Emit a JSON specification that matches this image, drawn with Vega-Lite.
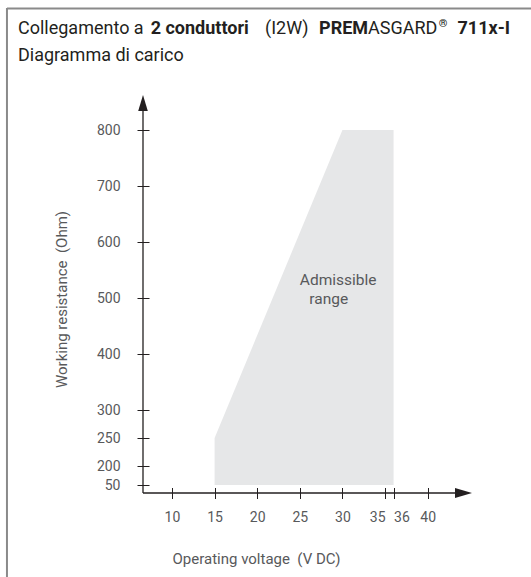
{
  "$schema": "https://vega.github.io/schema/vega-lite/v6.json",
  "autosize": {"type": "none"},
  "padding": {"left": 143, "top": 95, "right": 59, "bottom": 84},
  "width": 329,
  "height": 398,
  "background": "white",
  "config": {
    "view": {"stroke": null},
    "font": "Roboto",
    "axis": {"grid": false, "domain": false, "labelFont": "Roboto", "titleFont": "Roboto", "labelColor": "#58595b", "titleColor": "#58595b", "tickColor": "#231f20", "tickWidth": 1, "labelFontSize": 14, "titleFontSize": 15, "titleFontWeight": "normal", "labelOverlap": false, "labelFlush": false}
  },
  "datasets": {
    "range": [
      {"voltage": 15, "resistance": 250},
      {"voltage": 30, "resistance": 800},
      {"voltage": 36, "resistance": 800}
    ],
    "labels": [
      {"label": "Admissible", "voltage": 29.5, "resistance": 532},
      {"label": "range", "voltage": 28.4, "resistance": 498}
    ]
  },
  "layer": [
    {
      "data": {"name": "range"},
      "mark": {"type": "area", "color": "#e6e7e8", "interpolate": "linear"},
      "encoding": {
        "x": {"field": "voltage", "type": "quantitative", "scale": {"domain": [6.6, 45.2], "nice": false, "zero": false},
          "axis": {"values": [10, 15, 20, 25, 30, 35, 36, 40], "offset": -5.5, "tickSize": 11, "labelPadding": 12,
            "labelAlign": {"condition": [{"test": "datum.value == 35", "value": "right"}, {"test": "datum.value == 36", "value": "left"}], "value": "center"},
            "title": "Operating voltage \u00a0(V DC)", "titleX": 29, "titleY": 71, "titleAlign": "left", "titleBaseline": "middle", "titleAnchor": "start"}},
        "y": {"field": "resistance", "type": "quantitative", "scale": {"domain": [0, 50, 200, 862.5], "range": [398, 390, 371, 0], "nice": false, "zero": false},
          "axis": {"values": [50, 200, 250, 300, 400, 500, 600, 700, 800], "offset": -6, "tickSize": 12, "labelPadding": 17, "title": "Working resistance \u00a0(Ohm)", "titleX": -88, "titleY": 204, "titleAlign": "center", "titleBaseline": "middle", "titleAngle": -90}},
        "y2": {"datum": 50}
      }
    },
    {
      "data": {"name": "labels"},
      "mark": {"type": "text", "font": "Roboto", "fontSize": 15.5, "color": "#58595b", "align": "center", "baseline": "middle"},
      "encoding": {
        "x": {"field": "voltage", "type": "quantitative"},
        "y": {"field": "resistance", "type": "quantitative"},
        "text": {"field": "label"}
      }
    },
    {
      "data": {"values": [{}]},
      "layer": [
        {"mark": {"type": "rule", "color": "#231f20", "strokeWidth": 1.3},
         "encoding": {"x": {"datum": 6.6, "type": "quantitative"}, "x2": {"datum": 44}, "y": {"datum": 0, "type": "quantitative"}}},
        {"mark": {"type": "rule", "color": "#231f20", "strokeWidth": 1.3},
         "encoding": {"x": {"datum": 6.6, "type": "quantitative"}, "y": {"datum": 0, "type": "quantitative"}, "y2": {"datum": 850}}},
        {"mark": {"type": "point", "shape": "M-2,-0.6L0,0L-2,0.6Z", "filled": true, "color": "#231f20", "size": 289, "opacity": 1},
         "encoding": {"x": {"datum": 45.2, "type": "quantitative"}, "y": {"datum": 0, "type": "quantitative"}}},
        {"mark": {"type": "point", "shape": "M-0.6,2L0,0L0.6,2Z", "filled": true, "color": "#231f20", "size": 256, "opacity": 1},
         "encoding": {"x": {"datum": 6.6, "type": "quantitative"}, "y": {"datum": 862.5, "type": "quantitative"}}},
        {"mark": {"type": "rule", "color": "#8a8a8a", "strokeWidth": 2, "clip": false},
         "encoding": {"x": {"datum": -9.36, "type": "quantitative"}, "x2": {"datum": 53}, "y": {"datum": 1017, "type": "quantitative"}}},
        {"mark": {"type": "rule", "color": "#8a8a8a", "strokeWidth": 2, "clip": false},
         "encoding": {"x": {"datum": -9.36, "type": "quantitative"}, "y": {"datum": 1018, "type": "quantitative"}, "y2": {"datum": -700}}},
        {"mark": {"type": "text", "font": "Roboto", "fontSize": 18, "color": "#231f20", "align": "left", "baseline": "middle", "text": "Collegamento a"},
         "encoding": {"x": {"datum": -8.07, "type": "quantitative"}, "y": {"datum": 981, "type": "quantitative"}}},
        {"mark": {"type": "text", "font": "Roboto", "fontSize": 18, "fontWeight": "bold", "color": "#231f20", "align": "left", "baseline": "middle", "text": "2 conduttori"},
         "encoding": {"x": {"datum": 7.5, "type": "quantitative"}, "y": {"datum": 981, "type": "quantitative"}}},
        {"mark": {"type": "text", "font": "Roboto", "fontSize": 18, "color": "#231f20", "align": "left", "baseline": "middle", "text": "(I2W)"},
         "encoding": {"x": {"datum": 20.92, "type": "quantitative"}, "y": {"datum": 981, "type": "quantitative"}}},
        {"mark": {"type": "text", "font": "Roboto", "fontSize": 18, "fontWeight": "bold", "color": "#231f20", "align": "left", "baseline": "middle", "text": "PREM"},
         "encoding": {"x": {"datum": 27.26, "type": "quantitative"}, "y": {"datum": 981, "type": "quantitative"}}},
        {"mark": {"type": "text", "font": "Roboto", "fontSize": 18, "color": "#231f20", "align": "left", "baseline": "middle", "text": "ASGARD"},
         "encoding": {"x": {"datum": 33.0, "type": "quantitative"}, "y": {"datum": 981, "type": "quantitative"}}},
        {"mark": {"type": "text", "font": "Roboto", "fontSize": 11, "fontWeight": "bold", "color": "#231f20", "align": "left", "baseline": "middle", "dy": -5, "text": "®"},
         "encoding": {"x": {"datum": 41.3, "type": "quantitative"}, "y": {"datum": 981, "type": "quantitative"}}},
        {"mark": {"type": "text", "font": "Roboto", "fontSize": 18, "fontWeight": "bold", "color": "#231f20", "align": "left", "baseline": "middle", "text": "711x-I"},
         "encoding": {"x": {"datum": 43.5, "type": "quantitative"}, "y": {"datum": 981, "type": "quantitative"}}},
        {"mark": {"type": "text", "font": "Roboto", "fontSize": 18, "color": "#231f20", "align": "left", "baseline": "middle", "text": "Diagramma di carico"},
         "encoding": {"x": {"datum": -8.07, "type": "quantitative"}, "y": {"datum": 932, "type": "quantitative"}}}
      ]
    }
  ]
}
